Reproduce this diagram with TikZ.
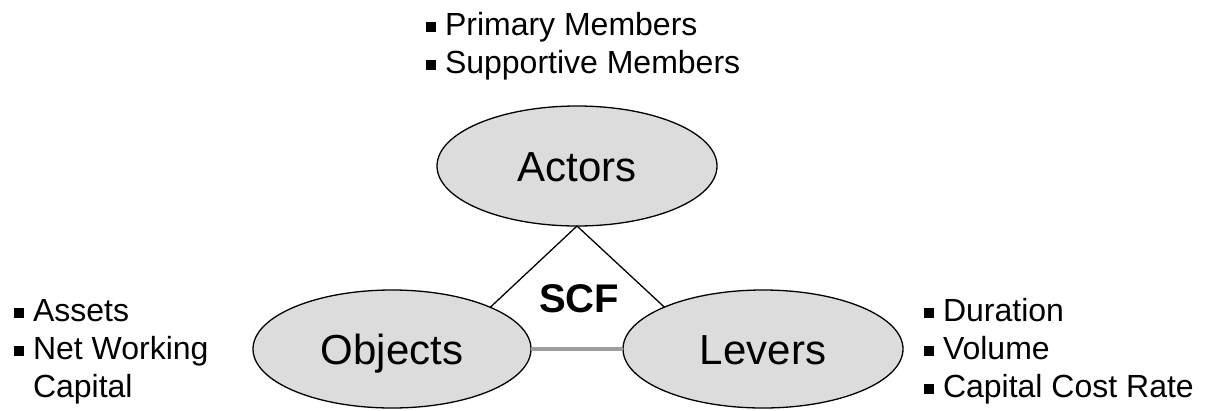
\documentclass[tikz,border=0pt]{standalone}
\usepackage{fontspec}
\setmainfont{Liberation Sans}
\usetikzlibrary{shapes.geometric}

\definecolor{bubblefill}{RGB}{220,220,220}
\definecolor{linkgray}{RGB}{158,158,158}

% small square bullet hanging left of the item text
\newcommand{\sqbullet}{\llap{\rule[3pt]{10pt}{10pt}\hspace{9pt}}}

\tikzset{
  bubble/.style={ellipse, draw=black, line width=1.3pt, fill=bubblefill,
    inner sep=0pt, outer sep=0pt, text height=30pt, text depth=0pt,
    font=\fontsize{42}{50}\selectfont},
  item/.style={anchor=base west, inner sep=0pt, outer sep=0pt,
    font=\fontsize{32}{38}\selectfont},
  edge/.style={draw=black, line width=1.3pt},
  baseedge/.style={draw=linkgray, line width=3.5pt}
}

\begin{document}
\begin{tikzpicture}[x=1pt,y=-1pt]
  \useasboundingbox (0,0) rectangle (1206,410);

  % the three elements of the framework
  \node[bubble, minimum width=280pt, minimum height=120pt] (A) at (577,166) {Actors};
  \node[bubble, minimum width=278pt, minimum height=118pt] (O) at (392,349) {Objects};
  \node[bubble, minimum width=280pt, minimum height=118pt] (L) at (763,349) {Levers};

  % triangle linking them
  \draw[edge] (A.south) -- (O.23);
  \draw[edge] (A.south) -- (L.157);
  \draw[baseedge] (O.east) -- (L.west);

  \node[font=\fontsize{40}{48}\selectfont\bfseries, inner sep=0pt] (scf) at (579,299) {SCF};

  % actors
  \node[item] (a1) at (445,35) {\sqbullet Primary Members};
  \node[item] (a2) at (445,73) {\sqbullet Supportive Members};

  % objects
  \node[item] (o1) at (33,321) {\sqbullet Assets};
  \node[item] (o2) at (33,359) {\sqbullet Net Working};
  \node[item] (o3) at (33,397) {Capital};

  % levers
  \node[item] (l1) at (943,321) {\sqbullet Duration};
  \node[item] (l2) at (943,359) {\sqbullet Volume};
  \node[item] (l3) at (943,397) {\sqbullet Capital Cost Rate};
\end{tikzpicture}
\end{document}
